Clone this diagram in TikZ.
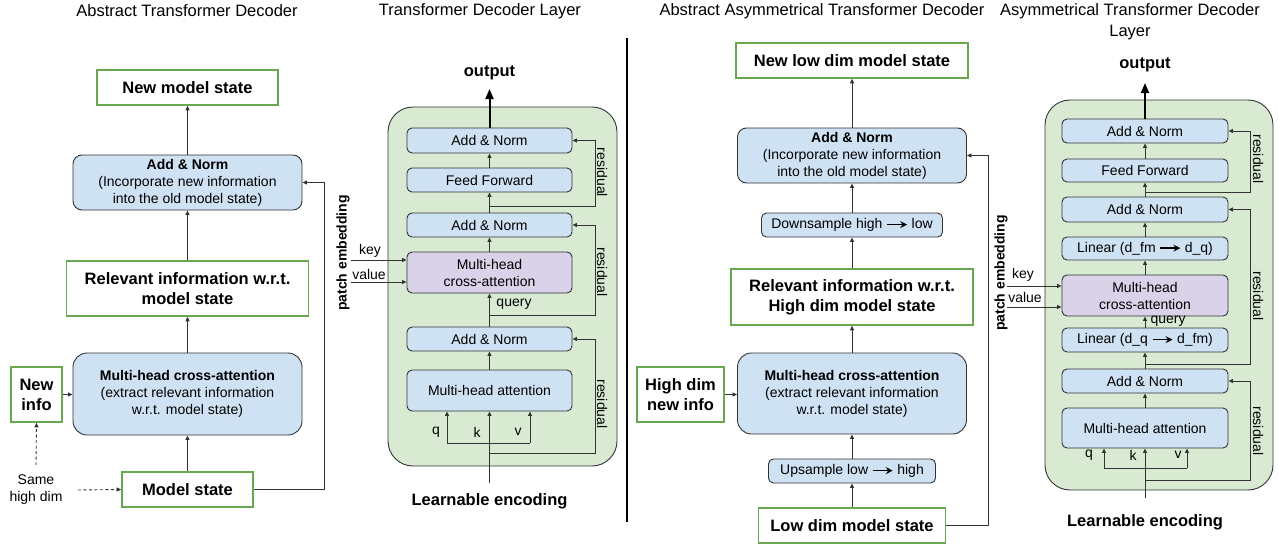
\documentclass[tikz,border=0pt]{standalone}
\usepackage{fontspec}
\setmainfont{Liberation Sans}
\usetikzlibrary{arrows.meta}
\definecolor{lblue}{HTML}{CFE2F3}
\definecolor{lpurple}{HTML}{D9D2E9}
\definecolor{lgreen}{HTML}{D9EAD3}
\definecolor{gborder}{HTML}{6AA84F}
\definecolor{dk}{HTML}{333333}
\newcommand\txtn{\fontsize{14}{17}\selectfont}
\newcommand\txtb{\fontsize{16.5}{20}\selectfont\bfseries}
\newcommand\txtt{\fontsize{16.5}{21}\selectfont}
\newcommand\myarr{\tikz[baseline=-4pt]\draw[line width=1.4pt,-{Stealth[length=7pt,width=7pt,inset=2.5pt]}] (0pt,0pt)--(20pt,0pt);}
\begin{document}
\begin{tikzpicture}[x=1pt,y=-1pt,
  every node/.style={font=\txtn, text=black},
  conn/.style={draw=dk, line width=0.9pt},
  arr/.style={conn, -{Triangle[length=4.5pt,width=4pt]}},
  dsh/.style={dash pattern=on 3pt off 2.5pt},
  bigarr/.style={draw=black, line width=2pt, -{Triangle[length=10pt,width=8pt]}},
  wh/.style 2 args={minimum width=#1pt, minimum height=#2pt},
  gbox/.style={draw=gborder, line width=1.6pt, fill=white, inner sep=0pt, align=center, font=\txtb},
  bbox/.style={draw=dk, line width=0.9pt, fill=lblue, rounded corners=5pt, inner sep=0pt, align=center},
  pbox/.style={bbox, fill=lpurple},
  cont/.style={draw=dk, line width=0.9pt, fill=lgreen, rounded corners=25pt, inner sep=0pt},
  rlab/.style={rotate=-90, inner sep=0pt},
  plab/.style={rotate=90, inner sep=0pt, font=\txtn\bfseries},
]
\useasboundingbox (0,0) rectangle (1278,546);
\fill[white] (0,0) rectangle (1278,546);

% ---------------- Panel 1 ----------------
\node[font=\txtt] (t1) at (187,11) {Abstract Transformer Decoder};
\node[gbox, wh={181}{35}] (p1new) at (187.5,87.5) {New model state};
\node[bbox, rounded corners=9pt, wh={229}{55}] (p1an) at (187.5,182.5) {\textbf{Add \& Norm}\\(Incorporate new information\\into the old model state)};
\node[gbox, wh={242}{55}] (p1rel) at (187.5,288.5) {Relevant information w.r.t.\\model state};
\node[bbox, rounded corners=14pt, wh={229}{82}] (p1mh) at (187.5,394) {\textbf{Multi-head cross-attention}\\(extract relevant information\\w.r.t. model state)};
\node[gbox, wh={51}{55}] (p1ni) at (36.5,394.5) {New\\info};
\node[gbox, wh={131}{35}] (p1ms) at (187.5,489.5) {Model state};
\node[align=center] (p1same) at (36,490) {Same\\high dim};
\draw[arr] (p1an.north) -- (p1new.south);
\draw[arr] (p1rel.north) -- (p1an.south);
\draw[arr] (p1mh.north) -- (p1rel.south);
\draw[arr] (p1ms.north) -- (p1mh.south);
\draw[arr] (p1ni.east) -- (p1ni.east -| p1mh.west);
\draw[arr] (p1ms.east) -- ++(71,0) |- (p1an.east);
\coordinate (p1d1) at (36,465);
\coordinate (p1d2) at (78,490);
\draw[arr,dsh] (p1d1) -- (p1ni.south);
\draw[arr,dsh] (p1d2) -- (p1ms.west);

% ---------------- Panel 2 ----------------
\node[font=\txtt] (t2) at (480,11) {Transformer Decoder Layer};
\coordinate (sepa) at (627,38);
\coordinate (sepb) at (627,522);
\draw[black, line width=1.3pt] (sepa) -- (sepb);
\node[cont, wh={229}{359}] (p2box) at (502.5,286.5) {};
\node[bbox, wh={165}{25}] (p2an1) at (489.5,140.5) {Add \& Norm};
\node[bbox, wh={165}{24}] (p2ff) at (489.5,180) {Feed Forward};
\node[bbox, wh={165}{24}] (p2an2) at (489.5,225) {Add \& Norm};
\node[pbox, wh={165}{41}] (p2ca) at (489.5,272.5) {Multi-head\\cross-attention};
\node[bbox, wh={165}{24}] (p2an3) at (489.5,339) {Add \& Norm};
\node[bbox, wh={165}{41}] (p2mha) at (489.5,390.5) {Multi-head attention};
\node[font=\txtb] (p2out) at (489.5,73) {output};
\coordinate (p2o) at (489.5,89);
\draw[bigarr] (p2an1.north) -- (p2o);
\draw[arr] (p2ff.north) -- (p2an1.south);
\draw[arr] (p2an2.north) -- (p2ff.south);
\draw[arr] (p2ca.north) -- (p2an2.south);
\draw[arr] (p2an3.north) -- (p2ca.south);
\draw[arr] (p2mha.north) -- (p2an3.south);
\node (p2query) at (514,304) {query};
\node[font=\txtb] (p2le) at (489.5,501) {Learnable encoding};
\coordinate (p2in) at (489.5,483);
\draw[arr] (p2in) -- (p2mha.south);
\coordinate (p2q) at (447,443);
\coordinate (p2v) at (530,443);
\draw[conn] (p2q) -- (p2v);
\draw[arr] (p2q) -- (p2q |- p2mha.south);
\draw[arr] (p2v) -- (p2v |- p2mha.south);
\node (p2ql) at (436,432) {q};
\node (p2kl) at (477,432) {k};
\node (p2vl) at (518,432) {v};
\coordinate (p2r1) at (489.5,206);
\coordinate (p2r2) at (489.5,315);
\coordinate (p2r3) at (489.5,453);
\draw[arr] (p2r1) -- ++(105.5,0) |- (p2an1.east);
\draw[arr] (p2r2) -- ++(105.5,0) |- (p2an2.east);
\draw[arr] (p2r3) -- ++(105.5,0) |- (p2an3.east);
\node[rlab] (p2rl1) at (602,172.5) {residual};
\node[rlab] (p2rl2) at (602,272) {residual};
\node[rlab] (p2rl3) at (602,404) {residual};
\coordinate (p2k) at (351,260);
\coordinate (p2vv) at (351,282);
\draw[arr] (p2k) -- (p2k -| p2ca.west);
\draw[arr] (p2vv) -- (p2vv -| p2ca.west);
\node (p2key) at (370,251) {key};
\node (p2val) at (369,274) {value};
\node[plab] (p2pe) at (343,253) {patch embedding};

% ---------------- Panel 3 ----------------
\node[font=\txtt] (t3) at (822,11) {Abstract Asymmetrical Transformer Decoder};
\node[gbox, wh={232}{35}] (p3new) at (852,60.5) {New low dim model state};
\node[bbox, rounded corners=9pt, wh={229}{55}] (p3an) at (852,155.5) {\textbf{Add \& Norm}\\(Incorporate new information\\into the old model state)};
\node[bbox, wh={181}{24}] (p3down) at (852,225) {Downsample high \myarr{} low};
\node[gbox, wh={242}{56}] (p3rel) at (852,297) {Relevant information w.r.t.\\High dim model state};
\node[bbox, rounded corners=14pt, wh={229}{81}] (p3mh) at (852,393.5) {\textbf{Multi-head cross-attention}\\(extract relevant information\\w.r.t. model state)};
\node[gbox, wh={87}{55}] (p3hd) at (680.5,394.5) {High dim\\new info};
\node[bbox, wh={167}{24}] (p3up) at (852,471) {Upsample low \myarr{} high};
\node[gbox, wh={187}{35}] (p3low) at (852,525.5) {Low dim model state};
\draw[arr] (p3an.north) -- (p3new.south);
\draw[arr] (p3down.north) -- (p3an.south);
\draw[arr] (p3rel.north) -- (p3down.south);
\draw[arr] (p3mh.north) -- (p3rel.south);
\draw[arr] (p3up.north) -- (p3mh.south);
\draw[arr] (p3low.north) -- (p3up.south);
\draw[arr] (p3hd.east) -- (p3hd.east -| p3mh.west);
\draw[arr] (p3low.east) -- ++(42.5,0) |- (p3an.east);

% ---------------- Panel 4 ----------------
\node[font=\txtt, align=center] (t4) at (1130,21.5) {Asymmetrical Transformer Decoder\\Layer};
\node[cont, wh={228}{390}] (p4box) at (1159,295) {};
\node[bbox, wh={166}{24}] (p4an1) at (1145,131) {Add \& Norm};
\node[bbox, wh={166}{23}] (p4ff) at (1145,170.5) {Feed Forward};
\node[bbox, wh={166}{25}] (p4an2) at (1145,209.5) {Add \& Norm};
\node[bbox, wh={166}{23}] (p4lin1) at (1145,248.5) {Linear (d\_fm \myarr{} d\_q)};
\node[pbox, wh={166}{41}] (p4ca) at (1145,295.5) {Multi-head\\cross-attention};
\node[bbox, wh={166}{24}] (p4lin2) at (1145,340) {Linear (d\_q \myarr{} d\_fm)};
\node[bbox, wh={166}{24}] (p4an3) at (1145,381) {Add \& Norm};
\node[bbox, wh={166}{40}] (p4mha) at (1145,428) {Multi-head attention};
\node[font=\txtb] (p4out) at (1145,65) {output};
\coordinate (p4o) at (1145,83);
\draw[bigarr] (p4an1.north) -- (p4o);
\draw[arr] (p4ff.north) -- (p4an1.south);
\draw[arr] (p4an2.north) -- (p4ff.south);
\draw[arr] (p4lin1.north) -- (p4an2.south);
\draw[arr] (p4ca.north) -- (p4lin1.south);
\draw[arr] (p4lin2.north) -- (p4ca.south);
\draw[arr] (p4an3.north) -- (p4lin2.south);
\draw[arr] (p4mha.north) -- (p4an3.south);
\node (p4query) at (1168,321) {query};
\node[font=\txtb] (p4le) at (1145,522) {Learnable encoding};
\coordinate (p4in) at (1145,498);
\draw[arr] (p4in) -- (p4mha.south);
\coordinate (p4q) at (1104,468);
\coordinate (p4v) at (1187,468);
\draw[conn] (p4q) -- (p4v);
\draw[arr] (p4q) -- (p4q |- p4mha.south);
\draw[arr] (p4v) -- (p4v |- p4mha.south);
\node (p4ql) at (1089,455) {q};
\node (p4kl) at (1133,455) {k};
\node (p4vl) at (1178,455) {v};
\coordinate (p4r1) at (1145,192);
\coordinate (p4r2) at (1145,364);
\coordinate (p4r3) at (1145,480);
\draw[arr] (p4r1) -- ++(105,0) |- (p4an1.east);
\draw[arr] (p4r2) -- ++(105,0) |- (p4an2.east);
\draw[arr] (p4r3) -- ++(105,0) |- (p4an3.east);
\node[rlab] (p4rl1) at (1258,159) {residual};
\node[rlab] (p4rl2) at (1258,296) {residual};
\node[rlab] (p4rl3) at (1258,431) {residual};
\coordinate (p4k) at (1007,286);
\coordinate (p4vv) at (1007,307);
\draw[arr] (p4k) -- (p4k -| p4ca.west);
\draw[arr] (p4vv) -- (p4vv -| p4ca.west);
\node (p4key) at (1023,275) {key};
\node (p4val) at (1025,297) {value};
\node[plab] (p4pe) at (1001,273) {patch embedding};
\end{tikzpicture}
\end{document}
